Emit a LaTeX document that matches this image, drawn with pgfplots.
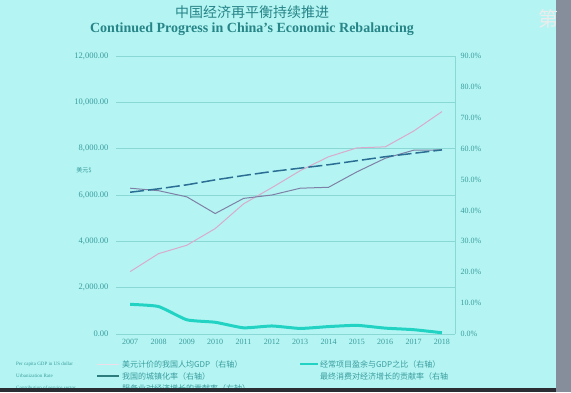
\documentclass[border=0pt]{standalone}
\usepackage{pgfplots}
\pgfplotsset{compat=1.18}
\usepackage{fontspec}
\setmainfont{Liberation Serif}
\newfontfamily\cjk{Noto Sans CJK SC}
\definecolor{bg}{HTML}{B4F5F3}
\definecolor{txt}{HTML}{3A9C9E}
\definecolor{ttl}{HTML}{278487}
\definecolor{gridc}{HTML}{8AD8D6}
\definecolor{pinkc}{HTML}{D9AACB}
\definecolor{urban}{HTML}{2B6E94}
\definecolor{serv}{HTML}{7F80A6}
\definecolor{cac}{HTML}{22D3C4}
\definecolor{strip}{HTML}{858E9A}
\definecolor{darkb}{HTML}{2A2D33}
\begin{document}
\begin{tikzpicture}[x=1pt,y=1pt]
\fill[bg] (0,0) rectangle (571,392);
% titles
\node[text=ttl,font=\cjk\fontsize{14}{14}\selectfont] at (252,380) {中国经济再平衡持续推进};
\node[text=ttl,font=\bfseries\fontsize{14}{14}\selectfont] at (252,363) {Continued Progress in China's Economic Rebalancing};
\node[text=txt,font=\cjk\fontsize{6}{6}\selectfont] at (84,222) {美元\$};
\begin{axis}[at={(116pt,58pt)},anchor=south west,scale only axis,width=339pt,height=278pt,
  xmin=2006.5,xmax=2018.46,ymin=0,ymax=12000,
  ytick={0,2000,...,12000},xtick={2007,...,2018},
  axis x line*=bottom,axis y line*=left,
  y axis line style={draw=none},
  x axis line style={draw=gridc,-},
  ymajorgrids,grid style={gridc,line width=0.6pt},
  major tick style={draw=none},
  scaled y ticks=false,
  /pgf/number format/assume math mode=true,
  xticklabel style={font=\fontsize{8}{8}\selectfont,text=txt,yshift=-2pt,/pgf/number format/1000 sep={}},
  yticklabel style={font=\fontsize{8.5}{8.5}\selectfont,text=txt,xshift=-4pt,/pgf/number format/.cd,fixed,fixed zerofill,precision=2,1000 sep={,}},
  ]
\addplot[pinkc,line width=1pt] coordinates {(2007,2694)(2008,3468)(2009,3832)(2010,4550)(2011,5618)(2012,6317)(2013,7051)(2014,7651)(2015,8033)(2016,8079)(2017,8759)(2018,9600)};
\end{axis}
\begin{axis}[at={(116pt,58pt)},anchor=south west,scale only axis,width=339pt,height=278pt,
  xmin=2006.5,xmax=2018.46,ymin=0,ymax=90,
  ytick={0,10,...,90},
  axis x line=none,axis y line*=right,
  y axis line style={draw=gridc,-},
  major tick style={draw=none},
  yticklabel={\pgfmathprintnumber[assume math mode=true,fixed,fixed zerofill,precision=1]{\tick}\%},
  yticklabel style={font=\fontsize{8}{8}\selectfont,text=txt,xshift=2pt},
  ]
\addplot[cac,line width=3pt,smooth,tension=0.3] coordinates {(2007,9.6)(2008,8.9)(2009,4.6)(2010,3.8)(2011,2.0)(2012,2.6)(2013,1.8)(2014,2.4)(2015,2.8)(2016,1.9)(2017,1.4)(2018,0.4)};
\addplot[serv,line width=1pt] coordinates {(2007,47.2)(2008,46.4)(2009,44.4)(2010,39.0)(2011,43.9)(2012,45.0)(2013,47.2)(2014,47.5)(2015,52.5)(2016,56.9)(2017,59.5)(2018,59.6)};
\addplot[urban,line width=1.5pt,dash pattern=on 14pt off 4pt] coordinates {(2007,45.9)(2008,47.0)(2009,48.3)(2010,49.9)(2011,51.3)(2012,52.6)(2013,53.7)(2014,54.8)(2015,56.1)(2016,57.4)(2017,58.5)(2018,59.6)};
\end{axis}
% legend
\begin{scope}[every node/.style={anchor=west,inner sep=0pt,text=txt}]
\node[font=\fontsize{5}{5}\selectfont] at (16,28) {Per capita GDP in US dollar};
\node[font=\fontsize{5}{5}\selectfont] at (16,16) {Urbanization Rate};
\node[font=\fontsize{5}{5}\selectfont] at (16,4) {Contribution of service sector};
\draw[white!60!pinkc,line width=1pt] (97,28) -- (119,28);
\draw[txt!80!black,line width=1.5pt] (97,16) -- (119,16);
\draw[serv,line width=1pt] (97,4) -- (119,4);
\node[font=\cjk\fontsize{8}{8}\selectfont] at (122,28) {美元计价的我国人均GDP（右轴）};
\node[font=\cjk\fontsize{8}{8}\selectfont] at (122,16) {我国的城镇化率（右轴）};
\node[font=\cjk\fontsize{8}{8}\selectfont] at (122,4) {服务业对经济增长的贡献率（右轴）};
\draw[cac,line width=2pt] (300,28) -- (318,28);
\node[font=\cjk\fontsize{8}{8}\selectfont] at (320,28) {经常项目盈余与GDP之比（右轴）};
\node[font=\cjk\fontsize{8}{8}\selectfont] at (320,16) {最终消费对经济增长的贡献率（右轴};
\end{scope}
\fill[darkb] (0,0) rectangle (571,4.5);
\fill[strip] (556,0) rectangle (571,392);
\node[text=white!85!gray,font=\cjk\fontsize{20}{20}\selectfont] at (548,373) {第};
\end{tikzpicture}
\end{document}
